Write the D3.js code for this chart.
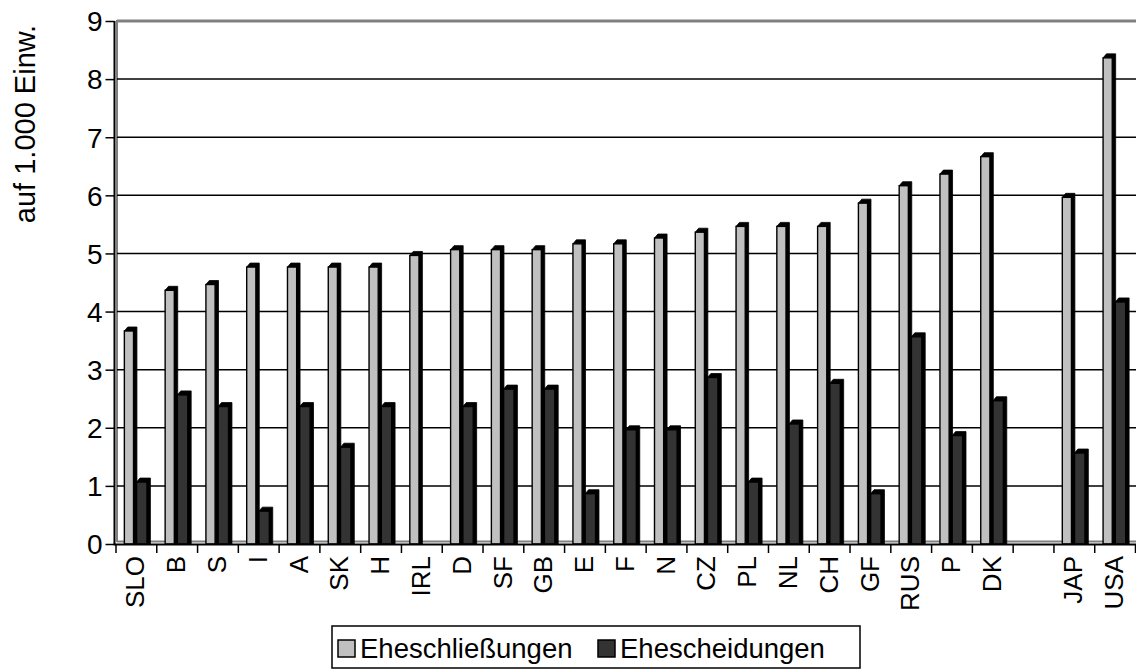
<!DOCTYPE html>
<html>
<head>
<meta charset="utf-8">
<script src="https://cdn.jsdelivr.net/npm/d3@7/dist/d3.min.js"></script>
<style>
  html, body { margin: 0; padding: 0; background: #fff; }
  svg { display: block; font-family: "Liberation Sans", Arial, sans-serif; }
</style>
</head>
<body>
<svg id="chart" width="1136" height="671"></svg>
<script>
const categories = ["SLO","B","S","I","A","SK","H","IRL","D","SF","GB","E","F","N","CZ","PL","NL","CH","GF","RUS","P","DK","","JAP","USA"];
const eheschliessungen = [3.7,4.4,4.5,4.8,4.8,4.8,4.8,5.0,5.1,5.1,5.1,5.2,5.2,5.3,5.4,5.5,5.5,5.5,5.9,6.2,6.4,6.7,null,6.0,8.4];
const ehescheidungen = [1.1,2.6,2.4,0.6,2.4,1.7,2.4,null,2.4,2.7,2.7,0.9,2.0,2.0,2.9,1.1,2.1,2.8,0.9,3.6,1.9,2.5,null,1.6,4.2];
const yTicks = [0,1,2,3,4,5,6,7,8,9];
const seriesNames = ["Eheschließungen","Ehescheidungen"];
const colors = ["#c0c0c0","#333333"];

const svg = d3.select("#chart");
const x = d3.scaleBand().domain(categories).range([116, 1135.5]).paddingInner(0).paddingOuter(0);
const y = d3.scaleLinear().domain([0, 9]).range([544, 21]);
const bw = x.bandwidth();

// back wall / floor (gray)
svg.append("line").attr("x1",117).attr("x2",1136).attr("y1",21).attr("y2",21)
  .attr("stroke","#808080").attr("stroke-width",3);
svg.append("line").attr("x1",117).attr("x2",117).attr("y1",20).attr("y2",542)
  .attr("stroke","#808080").attr("stroke-width",2);
svg.append("line").attr("x1",117).attr("x2",1136).attr("y1",541.5).attr("y2",541.5)
  .attr("stroke","#808080").attr("stroke-width",2);

// gridlines
svg.append("g").selectAll("line").data(yTicks.filter(t => t > 0 && t < 9)).join("line")
  .attr("x1",117).attr("x2",1136)
  .attr("y1",d => y(d)).attr("y2",d => y(d))
  .attr("stroke","#000").attr("stroke-width",1.5);

// bars
const d3x = 3.4, d3y = 4;
function drawBar(g, cat, v, off, w, color) {
  if (v == null) return;
  const x0 = x(cat) + off;
  const yt = y(v) + 2;
  const base = 544;
  g.append("polygon")
    .attr("points", [[x0, yt],[x0 + d3x, yt - d3y],[x0 + w + d3x, yt - d3y],[x0 + w + d3x, base],[x0 + w, base],[x0 + w, yt]].map(p => p.join(",")).join(" "))
    .attr("fill","#000").attr("stroke","#000").attr("stroke-width",0.8);
  g.append("rect").attr("x", x0).attr("y", yt).attr("width", w).attr("height", base - yt)
    .attr("fill", color).attr("stroke","#000").attr("stroke-width",1.4);
}
const gb = svg.append("g");
categories.forEach((c, i) => {
  drawBar(gb, c, eheschliessungen[i], bw * 0.205, bw * 0.225, colors[0]);
  drawBar(gb, c, ehescheidungen[i], bw * 0.505, bw * 0.255, colors[1]);
});

// axes
const yAxis = d3.axisLeft(y).tickValues(yTicks).tickSize(9).tickPadding(3).tickFormat(d3.format("d"));
const gy = svg.append("g").attr("transform","translate(114.5,0)").call(yAxis);
gy.select(".domain").attr("stroke","#000").attr("stroke-width",2).attr("d","M0,21V545");
gy.selectAll(".tick line").attr("stroke","#000").attr("stroke-width",1.5);
gy.selectAll(".tick text").attr("font-size",28).attr("fill","#000").attr("dy","0.35em")
  .attr("font-family","'Liberation Sans', Arial, sans-serif");

svg.append("line").attr("x1",113.5).attr("x2",1136).attr("y1",544.5).attr("y2",544.5)
  .attr("stroke","#000").attr("stroke-width",2);
const bounds = d3.range(categories.length + 1).map(i => 116 + i * bw);
svg.append("g").selectAll("line").data(bounds).join("line")
  .attr("x1",d => d).attr("x2",d => d).attr("y1",544).attr("y2",553)
  .attr("stroke","#000").attr("stroke-width",1.5);

svg.append("g").selectAll("text").data(categories).join("text")
  .attr("transform", d => `translate(${x(d) + bw/2 - 1},556) rotate(-90)`)
  .attr("text-anchor","end").attr("dy","0.35em")
  .attr("font-size",26).attr("fill","#000")
  .text(d => d);

// y axis title
svg.append("text").attr("transform","translate(35,124) rotate(-90)")
  .attr("text-anchor","middle").attr("font-size",29).attr("fill","#000")
  .text("auf 1.000 Einw.");

// legend
const lg = svg.append("g");
lg.append("rect").attr("x",332).attr("y",626).attr("width",528).attr("height",42)
  .attr("fill","#fff").attr("stroke","#000").attr("stroke-width",1.5);
const legX = [338, 598];
seriesNames.forEach((n, i) => {
  lg.append("rect").attr("x",legX[i]).attr("y",640).attr("width",17).attr("height",17)
    .attr("fill",colors[i]).attr("stroke","#000").attr("stroke-width",1.5);
  lg.append("text").attr("x",legX[i] + 22).attr("y",658).attr("font-size",27.5).attr("fill","#000").text(n);
});
</script>
</body>
</html>
